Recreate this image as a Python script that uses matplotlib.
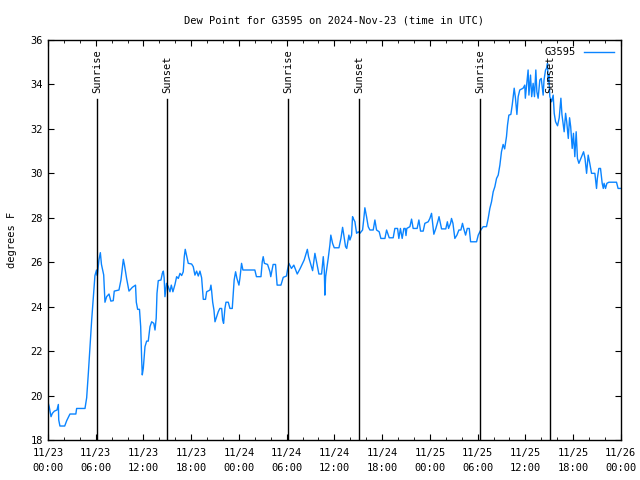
import matplotlib
matplotlib.use('Agg')
import matplotlib.pyplot as plt
from matplotlib.ticker import MultipleLocator

# Data ----------------------------------------------------
# hours since 2024-11-23 00:00 UTC, dew point in F

hours = [0.0, 0.15, 0.38, 0.55, 0.8, 1.13, 1.3, 1.35, 1.5, 2.1, 2.35, 2.76, 3.5, 3.6, 4.65, 4.86,
         5.07, 5.28, 5.49, 5.7, 5.9, 6.1, 6.2, 6.4, 6.58, 6.72, 7.0, 7.16, 7.37, 7.67, 7.9, 8.2,
         8.33, 8.92, 9.17, 9.47, 9.6, 9.88, 10.18, 10.6, 11.0, 11.1, 11.27, 11.5, 11.65, 11.77,
         11.85, 11.98, 12.19, 12.4, 12.6, 12.82, 13.03, 13.3, 13.45, 13.6, 13.7, 13.86, 14.2,
         14.37, 14.5, 14.6, 14.7, 14.9, 15.12, 15.33, 15.5, 15.7, 15.96, 16.17, 16.38, 16.59,
         16.8, 17.0, 17.13, 17.25, 17.4, 17.63, 18.05, 18.26, 18.47, 18.68, 18.89, 19.1, 19.31,
         19.44, 19.52, 19.8, 19.94, 20.36, 20.48, 20.55, 20.7, 20.86, 20.99, 21.2, 21.4, 21.6,
         21.83, 21.95, 22.07, 22.24, 22.37, 22.66, 22.87, 23.16, 23.29, 23.4, 23.58, 23.75, 24.0,
         24.12, 24.25, 24.33, 24.5, 26.0, 26.2, 26.77, 26.93, 27.05, 27.2, 27.6, 27.9, 28.0,
         28.3, 28.6, 28.8, 29.28, 29.57, 29.98, 30.1, 30.28, 30.6, 30.9, 31.33, 31.7, 32.2, 32.5,
         32.6, 32.75, 33.05, 33.26, 33.55, 33.76, 34.05, 34.39, 34.5, 34.6, 34.73, 34.8, 34.9,
         35.22, 35.43, 35.55, 35.77, 35.98, 36.57, 36.82, 37.03, 37.15, 37.4, 37.55, 37.82,
         37.95, 38.16, 38.28, 38.4, 38.58, 38.79, 39.0, 39.2, 39.54, 39.7, 39.83, 40.04, 40.25,
         40.46, 40.88, 41.09, 41.3, 41.63, 41.84, 42.35, 42.56, 42.89, 43.39, 43.6, 43.94, 44.1,
         44.3, 44.52, 44.73, 44.9, 45.0, 45.1, 45.49, 45.7, 45.9, 46.4, 46.62, 46.83, 47.16,
         47.37, 47.79, 48.0, 48.21, 48.3, 48.5, 48.75, 49.05, 49.15, 49.47, 50.0, 50.2, 50.35,
         50.6, 50.72, 50.9, 51.14, 51.4, 51.65, 51.9, 52.1, 52.25, 52.49, 52.7, 52.95, 53.12,
         53.87, 54.08, 54.4, 54.7, 55.12, 55.33, 55.54, 55.75, 55.96, 56.17, 56.38, 56.59, 56.8,
         57.0, 57.21, 57.4, 57.63, 57.76, 57.93, 58.18, 58.35, 58.6, 58.76, 58.94, 59.1, 59.3,
         59.72, 59.93, 60.0, 60.23, 60.35, 60.45, 60.65, 60.8, 60.98, 61.15, 61.32, 61.45,
         61.61, 61.82, 62.0, 62.24, 62.35, 62.54, 62.66, 62.79, 62.87, 62.95, 63.08, 63.3, 63.5,
         63.63, 63.8, 64.05, 64.26, 64.47, 64.6, 64.88, 65.06, 65.2, 65.4, 65.56, 65.7, 65.89,
         66.05, 66.22, 66.39, 66.55, 66.73, 66.9, 67.15, 67.32, 67.5, 67.7, 67.9, 68.1, 68.32,
         68.74, 68.95, 69.05, 69.24, 69.45, 69.66, 69.8, 69.9, 70.08, 70.25, 70.5, 71.46, 71.66,
         71.95]

dewpt = [19.7, 19.5, 19.05, 19.2, 19.3, 19.35, 19.6, 18.9, 18.63, 18.63, 18.87, 19.17, 19.17,
         19.42, 19.42, 19.9, 21.0, 22.2, 23.4, 24.45, 25.4, 25.65, 25.4, 26.1, 26.43, 25.9,
         25.43, 24.2, 24.45, 24.57, 24.25, 24.27, 24.7, 24.75, 25.2, 26.13, 25.9, 25.27, 24.7,
         24.87, 24.97, 24.2, 23.88, 23.88, 23.1, 21.68, 20.93, 21.23, 22.2, 22.45, 22.45, 23.1,
         23.32, 23.25, 22.95, 23.48, 24.6, 25.17, 25.2, 25.5, 25.6, 25.3, 24.45, 25.05, 24.9,
         24.67, 24.97, 24.67, 25.0, 25.35, 25.27, 25.5, 25.4, 25.57, 26.25, 26.58, 26.33, 25.95,
         25.92, 25.8, 25.42, 25.6, 25.38, 25.6, 25.3, 24.67, 24.33, 24.33, 24.67, 24.75, 24.97,
         24.77, 24.2, 23.85, 23.32, 23.55, 23.77, 23.92, 23.92, 23.4, 23.25, 23.92, 24.2, 24.2,
         23.92, 23.92, 24.6, 25.2, 25.57, 25.27, 24.97, 25.27, 25.68, 25.95, 25.65, 25.65, 25.35,
         25.35, 26.02, 26.25, 25.95, 25.9, 25.57, 25.35, 25.9, 25.9, 24.97, 24.97, 25.32, 25.38,
         25.65, 25.95, 25.72, 25.87, 25.47, 25.72, 26.1, 26.47, 26.58, 26.25, 25.87, 25.62, 26.4,
         26.02, 25.47, 25.47, 25.87, 26.25, 25.65, 24.52, 25.35, 26.17, 26.77, 27.22, 26.85,
         26.65, 26.65, 27.07, 27.57, 27.3, 26.7, 26.62, 27.22, 27.0, 27.22, 28.05, 27.95, 27.82,
         27.3, 27.37, 27.3, 27.45, 27.97, 28.45, 28.05, 27.6, 27.45, 27.45, 27.9, 27.45, 27.37,
         27.07, 27.07, 27.45, 27.1, 27.1, 27.52, 27.52, 27.07, 27.52, 27.07, 27.52, 27.52, 27.2,
         27.52, 27.6, 27.94, 27.52, 27.52, 27.9, 27.4, 27.4, 27.75, 27.82, 27.97, 28.2, 27.9,
         27.26, 27.52, 27.9, 28.05, 27.5, 27.5, 27.82, 27.52, 27.75, 27.97, 27.75, 27.07, 27.22,
         27.45, 27.45, 27.75, 27.52, 27.22, 27.52, 27.52, 26.92, 26.92, 27.22, 27.45, 27.6, 27.6,
         27.97, 28.42, 28.72, 29.17, 29.4, 29.77, 29.92, 30.37, 30.97, 31.3, 31.1, 31.65, 32.17,
         32.62, 32.65, 33.07, 33.83, 33.38, 32.65, 33.45, 33.75, 33.83, 33.97, 33.38, 34.2, 34.65,
         33.52, 34.42, 33.45, 34.05, 33.45, 34.65, 33.67, 33.38, 34.2, 34.27, 33.52, 34.2, 34.65,
         34.72, 34.95, 34.12, 34.42, 33.45, 33.22, 33.52, 32.7, 32.32, 32.14, 32.5, 33.38, 32.65,
         31.87, 32.7, 32.32, 31.57, 32.5, 32.1, 31.12, 31.8, 30.75, 31.87, 30.67, 30.45, 30.6,
         30.82, 30.97, 30.67, 30.0, 30.82, 30.45, 30.0, 30.0, 29.32, 29.77, 30.22, 30.22, 29.55,
         29.32, 29.55, 29.32, 29.55, 29.6, 29.6, 29.32, 29.32]

sun_hours = [6.16, 14.95, 30.16, 39.08, 54.29, 63.08]
sun_names = ['Sunrise', 'Sunset', 'Sunrise', 'Sunset', 'Sunrise', 'Sunset']

tick_hours = list(range(0, 73, 6))
tick_labels = ['11/23\n00:00', '11/23\n06:00', '11/23\n12:00', '11/23\n18:00',
               '11/24\n00:00', '11/24\n06:00', '11/24\n12:00', '11/24\n18:00',
               '11/25\n00:00', '11/25\n06:00', '11/25\n12:00', '11/25\n18:00',
               '11/26\n00:00']

# Plot ----------------------------------------------------

plt.rcParams['font.family'] = 'DejaVu Sans Mono'
fs = 7.5

fig = plt.figure(figsize=(6.4, 4.8), dpi=100)
ax = fig.add_axes([0.075, 0.0833, 0.895, 0.8334])

ax.plot(hours, dewpt, color='#0a84ff', lw=1, label='G3595')

for h, name in zip(sun_hours, sun_names):
    ax.plot([h, h], [18, 33.35], color='black', lw=1)
    ax.text(h, 33.6, name, rotation=90, ha='center', va='bottom', fontsize=fs)

ax.set_xlim(0, 72)
ax.set_ylim(18, 36)
ax.set_xticks(tick_hours)
ax.set_xticklabels(tick_labels, linespacing=1.55)
ax.xaxis.set_minor_locator(MultipleLocator(2))
ax.set_yticks(range(18, 37, 2))
ax.tick_params(which='both', direction='in', top=True, right=True, labelsize=fs)
ax.tick_params(which='major', length=4)
ax.tick_params(which='minor', length=2.5)
ax.tick_params(axis='x', pad=6)
for s in ax.spines.values():
    s.set_linewidth(1)

ax.set_ylabel('degrees F', fontsize=fs, labelpad=10)
ax.set_title('Dew Point for G3595 on 2024-Nov-23 (time in UTC)', fontsize=fs, pad=12)
ax.legend(loc='upper right', frameon=False, markerfirst=False, fontsize=fs,
          handlelength=2.8, borderaxespad=0.3)

fig.savefig('out.png', dpi=100)
